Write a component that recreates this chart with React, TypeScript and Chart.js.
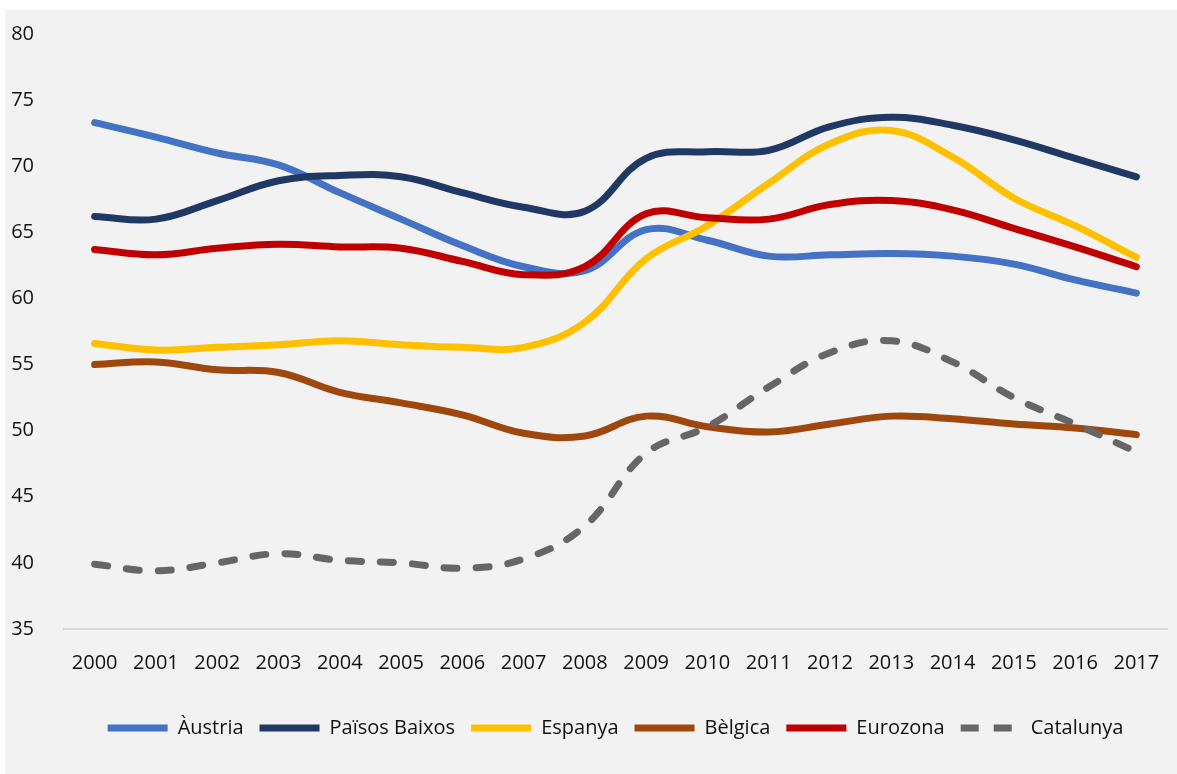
import React, { useEffect, useRef } from "react";
import { Chart, registerables } from "chart.js";

Chart.register(...registerables);

const years = ["2000","2001","2002","2003","2004","2005","2006","2007","2008","2009","2010","2011","2012","2013","2014","2015","2016","2017"];

const austria = [73.3, 72.2, 71.0, 70.1, 68.0, 66.0, 64.0, 62.4, 62.1, 65.2, 64.4, 63.2, 63.3, 63.4, 63.2, 62.6, 61.4, 60.4];
const paisosBaixos = [66.2, 66.0, 67.4, 68.9, 69.3, 69.2, 68.0, 66.9, 66.6, 70.6, 71.1, 71.2, 73.0, 73.7, 73.1, 72.0, 70.6, 69.2];
const espanya = [56.6, 56.1, 56.3, 56.5, 56.8, 56.5, 56.3, 56.3, 58.2, 63.0, 65.5, 68.7, 71.7, 72.7, 70.7, 67.6, 65.5, 63.1];
const belgica = [55.0, 55.2, 54.6, 54.4, 52.9, 52.1, 51.2, 49.8, 49.6, 51.1, 50.3, 49.9, 50.5, 51.1, 50.9, 50.5, 50.2, 49.7];
const eurozona = [63.7, 63.3, 63.8, 64.1, 63.9, 63.8, 62.8, 61.8, 62.4, 66.4, 66.1, 66.0, 67.1, 67.4, 66.7, 65.3, 63.9, 62.4];
const catalunya = [39.9, 39.4, 40.0, 40.7, 40.2, 40.0, 39.6, 40.3, 42.8, 48.3, 50.3, 53.3, 55.9, 56.8, 55.2, 52.5, 50.5, 48.4];

const seriesNames = ["Àustria", "Països Baixos", "Espanya", "Bèlgica", "Eurozona", "Catalunya"];
const seriesColors = ["#4472c4", "#1f3864", "#ffc000", "#9e480e", "#c00000", "#666666"];
const yTicks = [35, 40, 45, 50, 55, 60, 65, 70, 75, 80];

const FONT = "'Open Sans', 'Liberation Sans', sans-serif";

export default function App() {
  const canvasRef = useRef<HTMLCanvasElement | null>(null);

  useEffect(() => {
    if (!canvasRef.current) return;
    const allData = [austria, paisosBaixos, espanya, belgica, eurozona, catalunya];
    const datasets = allData.map((d, i) => ({
      label: seriesNames[i],
      data: d,
      borderColor: seriesColors[i],
      backgroundColor: seriesColors[i],
      borderWidth: 7,
      borderCapStyle: "round" as const,
      borderJoinStyle: "round" as const,
      borderDash: i === 5 ? [13, 19] : [],
      pointRadius: 0,
      pointHoverRadius: 0,
      tension: 0.4,
      fill: false,
      order: 6 - i,
    }));
    const defaultLabels = Chart.defaults.plugins.legend.labels.generateLabels;
    const chart = new Chart(canvasRef.current, {
      type: "line",
      data: { labels: years, datasets },
      options: {
        animation: false,
        responsive: false,
        maintainAspectRatio: false,
        layout: { padding: { top: 24, right: 10, bottom: 26, left: 0 } },
        plugins: {
          tooltip: { enabled: false },
          legend: {
            position: "bottom",
            fullSize: false,
            labels: {
              usePointStyle: true,
              pointStyle: "line",
              pointStyleWidth: 60,
              boxHeight: 20,
              padding: 16,
              color: "#111111",
              font: { family: FONT, size: 20 },
              sort: (a: any, b: any) => a.datasetIndex - b.datasetIndex,
              generateLabels: (c: any) => {
                const items = defaultLabels(c);
                items.forEach((it: any) => {
                  if (it.datasetIndex === 5) it.lineDash = [18, 15];
                });
                return items;
              },
            },
          },
        },
        scales: {
          x: {
            offset: true,
            grid: { display: false },
            border: { display: true, color: "#d9d9d9", width: 2 },
            afterFit: (scale: any) => { scale.height = 73; },
            ticks: {
              color: "#111111",
              font: { family: FONT, size: 20 },
              padding: 14,
              maxRotation: 0,
              autoSkip: false,
            },
          },
          y: {
            min: 35,
            max: 80,
            grid: { display: false },
            border: { display: false },
            afterFit: (scale: any) => {
              scale.width = 59;
              scale.paddingTop = 0;
              scale.paddingBottom = 0;
            },
            afterBuildTicks: (scale: any) => { scale.ticks = yTicks.map((v) => ({ value: v })); },
            ticks: {
              color: "#111111",
              font: { family: FONT, size: 20 },
              padding: 22,
            },
          },
        },
      },
    });
    return () => chart.destroy();
  }, []);

  return (
    <div style={{ position: "absolute", left: 5, top: 10, width: 1172, height: 764, background: "#f2f2f2" }}>
      <canvas ref={canvasRef} width={1172} height={764} style={{ display: "block" }} />
    </div>
  );
}
